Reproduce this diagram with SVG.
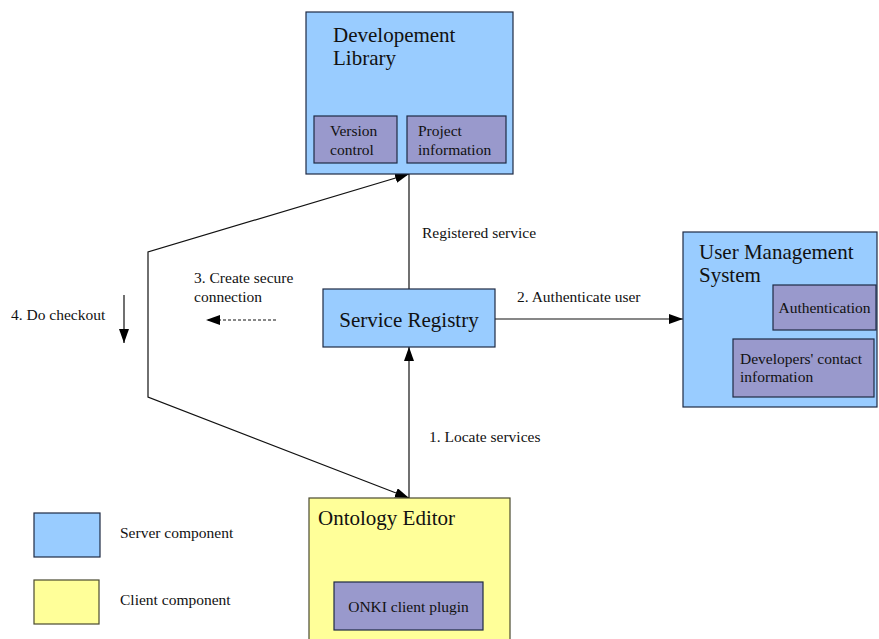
<svg xmlns="http://www.w3.org/2000/svg" width="879" height="639" viewBox="0 0 879 639" font-family="Liberation Serif, serif">
<style>
.srv{fill:#99ccff;stroke:#1f2a44;stroke-width:1.2}
.cli{fill:#ffff99;stroke:#4a4a30;stroke-width:1.2}
.sub{fill:#9999cc;stroke:#1f2a44;stroke-width:1.2}
text{fill:#111}
.big{font-size:21px}
.sm{font-size:15.5px}
.ln{fill:none;stroke:#111;stroke-width:1.2}
</style>
<defs>
<marker id="ah" viewBox="0 0 14 10" refX="14" refY="5" markerWidth="14" markerHeight="10" markerUnits="userSpaceOnUse" orient="auto-start-reverse">
<path d="M0,0 L14,5 L0,10 Z" fill="#000"/>
</marker>
</defs>
<rect width="879" height="639" fill="#fff"/>

<g id="connectors">
<line class="ln" x1="409" y1="289" x2="409" y2="174"/>
<line class="ln" x1="409" y1="498" x2="409" y2="347" marker-end="url(#ah)"/>
<line class="ln" x1="495" y1="319" x2="683" y2="319" marker-end="url(#ah)"/>
<path class="ln" stroke="#333" d="M409,498 L148,397 L148,252 L409,174" marker-start="url(#ah)" marker-end="url(#ah)"/>
<line class="ln" x1="276" y1="320" x2="206" y2="320" stroke-dasharray="3,2" stroke-width="1" marker-end="url(#ah)"/>
<line class="ln" x1="124" y1="295" x2="124" y2="343" marker-end="url(#ah)"/>
<text class="sm" x="422" y="238">Registered service</text>
<text class="sm" x="517" y="302">2. Authenticate user</text>
<text class="sm" x="194" y="283">3. Create secure</text>
<text class="sm" x="194" y="302">connection</text>
<text class="sm" x="11" y="320">4. Do checkout</text>
<text class="sm" x="429" y="442">1. Locate services</text>
</g>

<g id="dev-library">
<rect class="srv" x="306" y="12" width="207" height="162"/>
<text class="big" x="333" y="42">Developement</text>
<text class="big" x="333" y="65">Library</text>
<g id="version-control">
<rect class="sub" x="314" y="116" width="83" height="47"/>
<text class="sm" x="330" y="136">Version</text>
<text class="sm" x="330" y="155">control</text>
</g>
<g id="project-information">
<rect class="sub" x="407" y="116" width="99" height="47"/>
<text class="sm" x="418" y="136">Project</text>
<text class="sm" x="418" y="155">information</text>
</g>
</g>

<g id="service-registry">
<rect class="srv" x="323" y="289" width="172" height="58"/>
<text class="big" x="409" y="327" text-anchor="middle">Service Registry</text>
</g>

<g id="user-management">
<rect class="srv" x="683" y="232" width="194" height="175"/>
<text class="big" x="699" y="259">User Management</text>
<text class="big" x="699" y="282">System</text>
<g id="authentication">
<rect class="sub" x="773" y="285" width="103" height="45"/>
<text class="sm" x="824.5" y="313" text-anchor="middle">Authentication</text>
</g>
<g id="developers-contact">
<rect class="sub" x="733" y="339" width="141" height="58"/>
<text class="sm" x="740" y="364">Developers' contact</text>
<text class="sm" x="740" y="382">information</text>
</g>
</g>

<g id="ontology-editor">
<rect class="cli" x="309" y="498" width="201" height="150"/>
<text class="big" x="318" y="525">Ontology Editor</text>
<g id="onki-plugin">
<rect class="sub" x="334" y="582" width="149" height="48"/>
<text class="sm" x="408.5" y="612" text-anchor="middle">ONKI client plugin</text>
</g>
</g>

<g id="legend-server">
<rect class="srv" x="34" y="513" width="66" height="44"/>
<text class="sm" x="120" y="538">Server component</text>
</g>
<g id="legend-client">
<rect class="cli" x="34" y="580" width="65" height="44"/>
<text class="sm" x="120" y="605">Client component</text>
</g>
</svg>
